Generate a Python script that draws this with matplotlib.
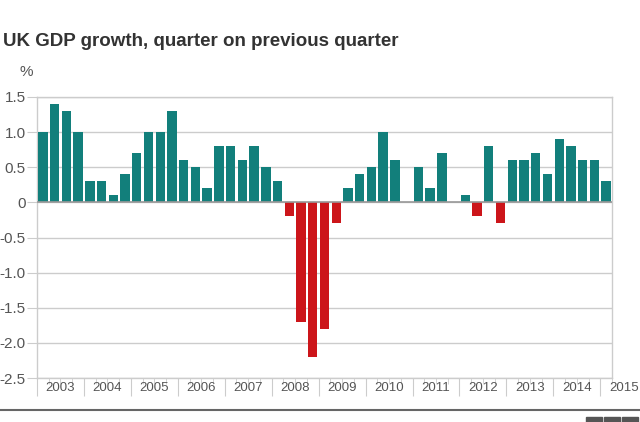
"""
UK GDP growth, quarter on previous quarter (2003 Q1 - 2015 Q1)
"""

import matplotlib.pyplot as plt
from matplotlib.patches import Rectangle
import numpy as np

plt.rcParams['font.family'] = ['Liberation Sans', 'DejaVu Sans']

years = ['2003', '2004', '2005', '2006', '2007', '2008', '2009',
         '2010', '2011', '2012', '2013', '2014', '2015']

# quarterly growth, %
growth = [1.0, 1.4, 1.3, 1.0,     # 2003
          0.3, 0.3, 0.1, 0.4,     # 2004
          0.7, 1.0, 1.0, 1.3,     # 2005
          0.6, 0.5, 0.2, 0.8,     # 2006
          0.8, 0.6, 0.8, 0.5,     # 2007
          0.3, -0.2, -1.7, -2.2,  # 2008
          -1.8, -0.3, 0.2, 0.4,   # 2009
          0.5, 1.0, 0.6, 0.0,     # 2010
          0.5, 0.2, 0.7, 0.0,     # 2011
          0.1, -0.2, 0.8, -0.3,   # 2012
          0.6, 0.6, 0.7, 0.4,     # 2013
          0.9, 0.8, 0.6, 0.6,     # 2014
          0.3]                    # 2015

yticks = [1.5, 1.0, 0.5, 0, -0.5, -1.0, -1.5, -2.0, -2.5]
ytick_labels = ['1.5', '1.0', '0.5', '0', '-0.5', '-1.0', '-1.5', '-2.0', '-2.5']

teal = '#127f7b'
red = '#cc151a'
text_col = '#555555'
grid_col = '#cccccc'

growth = np.array(growth)
x = np.arange(len(growth))
colors = [teal if v >= 0 else red for v in growth]

fig = plt.figure(figsize=(6.4, 4.22), dpi=100)
ax = fig.add_axes([37 / 640, 44 / 422, 575 / 640, 281 / 422])

ax.bar(x, growth, width=0.8, color=colors, zorder=3)

ax.set_xlim(-0.5, len(growth) - 0.5)
ax.set_ylim(-2.5, 1.5)

# y axis
ax.set_yticks(yticks)
ax.set_yticklabels(ytick_labels)
ax.tick_params(axis='y', length=7, color=grid_col, labelsize=11,
               labelcolor=text_col, pad=1)
ax.grid(axis='y', color=grid_col, linewidth=1, zorder=0)
ax.axhline(0, color='#999999', linewidth=1.2, zorder=4)

# x axis: year boundaries as major ticks, quarters as minor
ax.set_xticks(np.arange(-0.5, len(growth), 4))
ax.set_xticks(np.arange(-0.5, len(growth), 1), minor=True)
ax.set_xticklabels([])
ax.tick_params(axis='x', which='major', length=13, color=grid_col)
ax.tick_params(axis='x', which='minor', length=4, color=grid_col)

for k, yr in enumerate(years):
    xpos = 4 * k + 1.5 if k < len(years) - 1 else len(growth) + 0.5
    ax.text(xpos, -2.56, yr, ha='center', va='top', fontsize=9.5,
            color=text_col, transform=ax.transData, clip_on=False)

for side in ['top', 'right', 'left', 'bottom']:
    ax.spines[side].set_color(grid_col)
    ax.spines[side].set_linewidth(1)

# titles
fig.text(3 / 640, 1 - 42 / 422, 'UK GDP growth, quarter on previous quarter',
         fontsize=13.5, fontweight='bold', color='#333333', va='center')
fig.text(19 / 640, 1 - 72 / 422, '%', fontsize=11, color=text_col, va='center')

# footer rule and logo blocks
fig.add_artist(plt.Line2D([0, 1], [1 - 410 / 422] * 2, color='#666666',
                          linewidth=1.5, transform=fig.transFigure))
for bx in [586, 604, 622]:
    fig.add_artist(Rectangle((bx / 640, 0), 16 / 640, 5 / 422,
                             color='#555555', transform=fig.transFigure))

plt.savefig('out.png', dpi=100)
